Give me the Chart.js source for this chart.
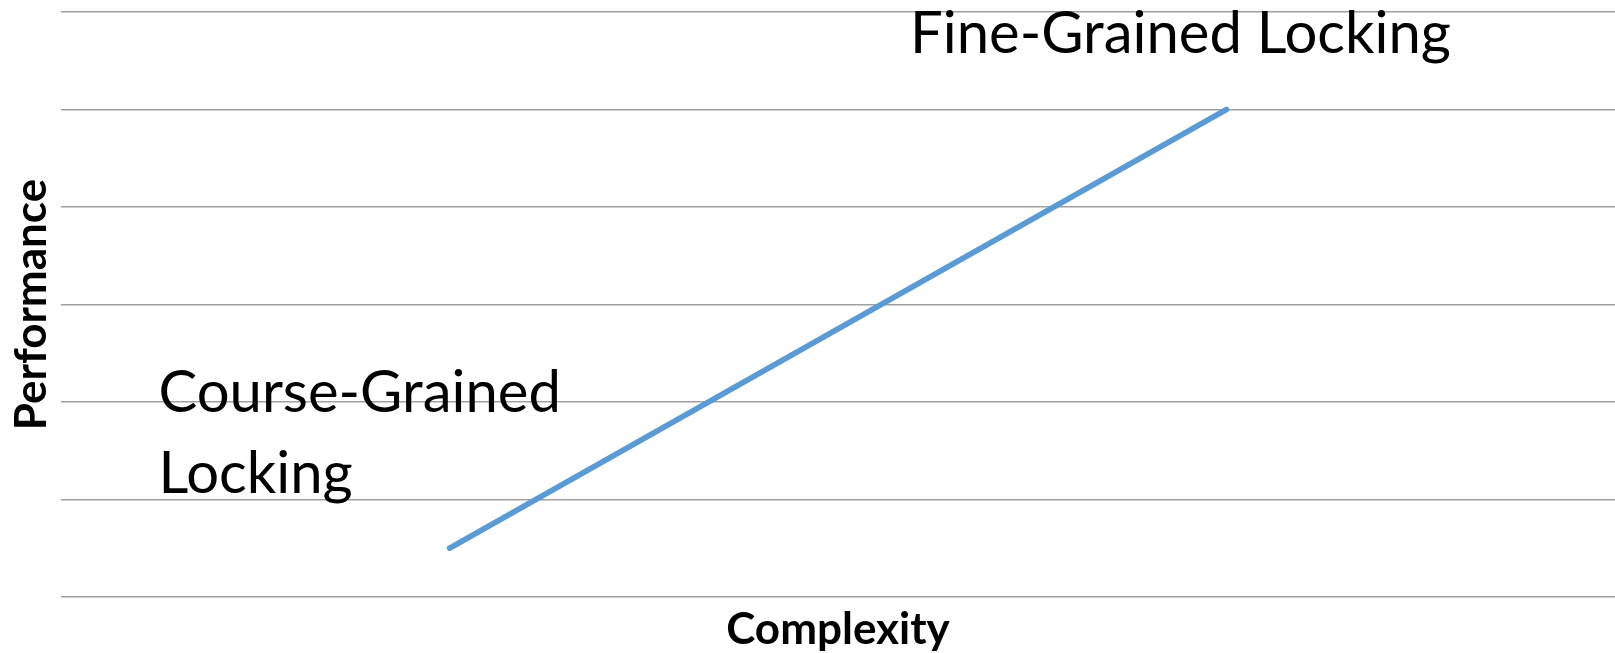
<!DOCTYPE html>
<html>
<head>
<meta charset="utf-8">
<script src="https://cdn.jsdelivr.net/npm/chart.js@4/dist/chart.umd.min.js"></script>
<style>
  html, body { margin: 0; padding: 0; background: #ffffff; }
  #wrap { width: 1615px; height: 653px; }
</style>
</head>
<body>
<div id="wrap"><canvas id="chart" width="1615" height="653"></canvas></div>
<script>
// Locking strategies along the complexity axis
const categories = ['Course-Grained Locking', 'Fine-Grained Locking'];
// Relative performance of each strategy
const performance = [0.5, 5];
// Multi-line captions shown next to each point
const pointCaptions = [['Course-Grained', 'Locking'], ['Fine-Grained Locking']];
// Performance scale bounds (gridlines every unit)
const yMin = 0;
const yMax = 6;

// Draws the caption of each point, anchored to the point itself
const pointCaptionPlugin = {
  id: 'pointCaptions',
  afterDatasetsDraw(chart, args, opts) {
    const meta = chart.getDatasetMeta(0);
    const ctx = chart.ctx;
    ctx.save();
    ctx.fillStyle = '#000000';
    ctx.font = opts.font;
    ctx.textBaseline = 'alphabetic';
    meta.data.forEach((pt, i) => {
      const place = opts.placement[i];
      ctx.textAlign = place.align;
      pointCaptions[i].forEach((line, k) => {
        ctx.fillText(line, pt.x + place.dx, pt.y + place.dy + k * opts.lineGap);
      });
    });
    ctx.restore();
  }
};

new Chart(document.getElementById('chart'), {
  type: 'line',
  data: {
    labels: categories,
    datasets: [{
      data: performance,
      borderColor: '#5B9BD5',
      borderWidth: 5.5,
      borderCapStyle: 'round',
      pointRadius: 0,
      pointHoverRadius: 0,
      tension: 0,
      fill: false
    }]
  },
  options: {
    responsive: false,
    animation: false,
    events: [],
    layout: { padding: { top: 12, right: 0, bottom: 0, left: 0 } },
    plugins: {
      legend: { display: false },
      tooltip: { enabled: false },
      pointCaptions: {
        font: '58px Lato',
        lineGap: 81,
        placement: [
          { align: 'left', dx: -291, dy: -136 },
          { align: 'center', dx: -46, dy: -57 }
        ]
      }
    },
    scales: {
      x: {
        type: 'category',
        offset: true,
        grid: { display: false },
        border: { display: false },
        ticks: { display: false },
        title: {
          display: true,
          text: 'Complexity',
          color: '#000000',
          font: { family: 'Lato', size: 44, weight: 'bold', lineHeight: 1.0 },
          padding: { top: 3, bottom: 1 }
        }
      },
      y: {
        min: yMin,
        max: yMax,
        grid: { color: '#a0a0a0', lineWidth: 1.5, drawTicks: false },
        border: { display: false },
        ticks: { display: false, stepSize: 1 },
        title: {
          display: true,
          text: 'Performance',
          color: '#000000',
          font: { family: 'Lato', size: 44, weight: 'bold', lineHeight: 1.0 },
          padding: { top: 10, bottom: 7 }
        }
      }
    }
  },
  plugins: [pointCaptionPlugin]
});
</script>
</body>
</html>
